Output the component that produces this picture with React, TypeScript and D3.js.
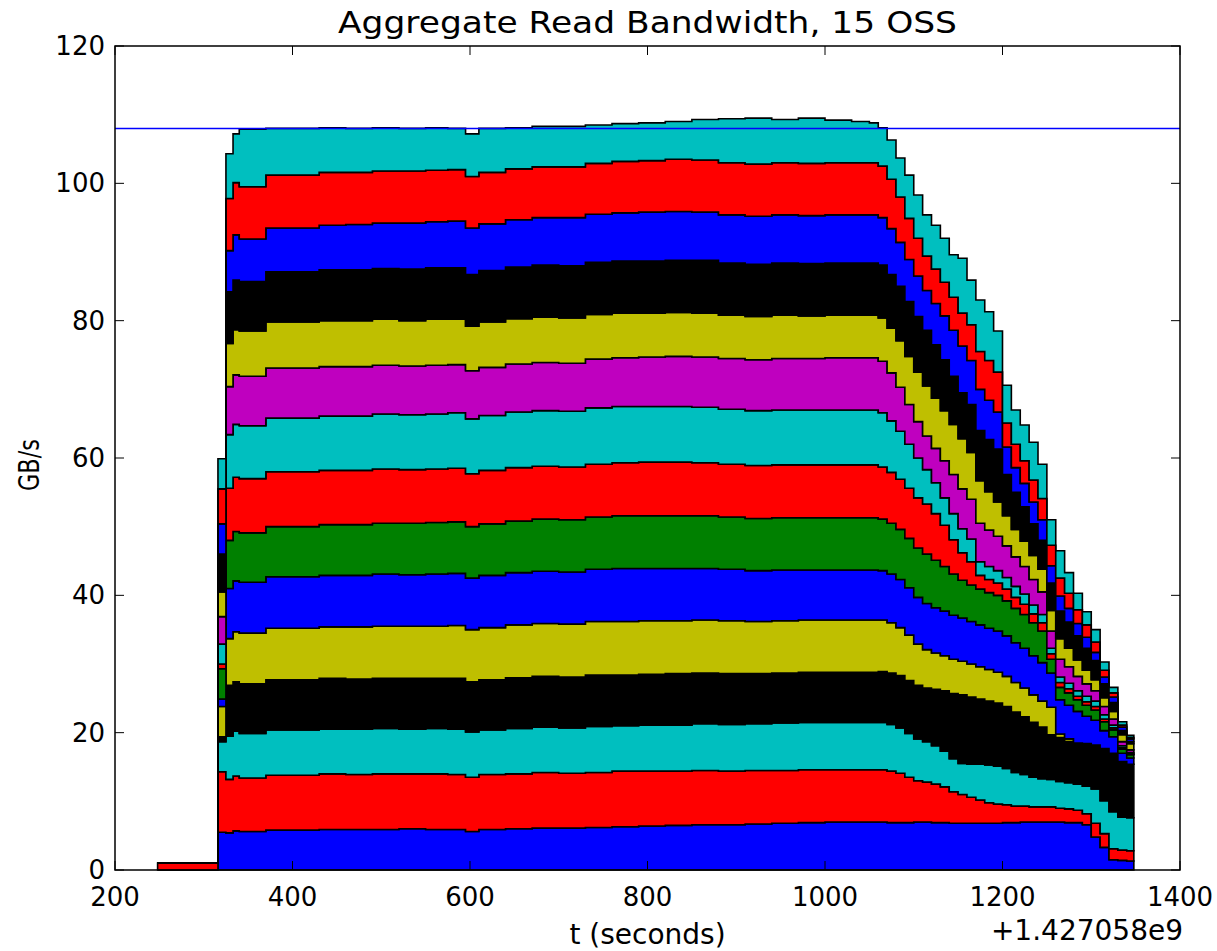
import React from 'react';
import * as d3 from 'd3';

// time stamps (seconds, offset +1.427058e9); each value holds until the next stamp
const times = [248, 316, 325, 333,
  340, 370, 400, 430, 460, 490, 520, 550, 575, 595, 610, 640, 670, 700, 730, 760, 790, 820, 850, 880, 910, 940, 970, 1000, 1030,
  1050, 1060, 1070, 1080, 1090, 1100, 1110, 1120, 1130, 1140, 1150, 1160, 1170, 1180, 1190, 1200, 1210, 1220, 1230, 1240,
  1250, 1260, 1270, 1280, 1290, 1300, 1310, 1320, 1330, 1340];
const END_TIME = 1348;

// per-OSS read bandwidth, GB/s (stacked bottom to top)
const oss01 = [0, 5.5, 5.4, 5.7,
  5.6, 5.8, 5.8, 5.9, 5.9, 5.9, 6.0, 5.9, 5.9, 5.6, 5.9, 6.0, 6.1, 6.1, 6.2, 6.3, 6.4, 6.5, 6.6, 6.6, 6.7, 6.8, 6.9, 7.0, 7.0,
  7.0, 7.0, 6.9, 6.9, 6.9, 7.0, 7.0, 6.9, 6.9, 6.8, 6.8, 6.8, 6.8, 6.8, 6.8, 6.9, 6.9, 7.0, 7.0, 7.0, 7.0, 7.0, 6.9, 6.9, 6.6, 4.8, 3.3, 1.5, 1.4, 1.3];
const oss02 = [1.0, 8.8, 7.8, 8.0,
  7.8, 8.0, 8.0, 8.1, 8.0, 8.1, 8.0, 8.1, 8.0, 7.9, 8.0, 8.0, 8.1, 8.0, 8.0, 8.1, 8.0, 7.9, 7.9, 7.8, 7.8, 7.7, 7.7, 7.6, 7.6,
  7.6, 7.6, 7.5, 7.2, 6.6, 6.0, 5.8, 5.6, 5.2, 4.6, 4.2, 3.8, 3.4, 3.0, 2.8, 2.6, 2.4, 2.3, 2.2, 2.2, 2.2, 2.0, 2.0, 1.8, 1.6, 2.0, 2.0, 1.6, 1.5, 1.5];
const oss03 = [0, 4.4, 6.3, 6.5,
  6.5, 6.6, 6.6, 6.5, 6.6, 6.6, 6.5, 6.6, 6.6, 6.6, 6.5, 6.6, 6.6, 6.6, 6.7, 6.6, 6.7, 6.7, 6.8, 6.8, 6.8, 6.9, 6.9, 6.9, 6.9,
  6.9, 6.9, 6.8, 6.6, 6.4, 6.1, 5.9, 5.6, 5.2, 4.8, 4.5, 4.8, 5.2, 5.5, 5.5, 5.3, 4.9, 4.6, 4.3, 4.1, 4.0, 3.9, 3.8, 3.8, 4.0, 5.0, 4.8, 5.4, 4.8, 4.8];
const oss04 = [0, 0.7, 7.4, 7.2,
  7.2, 7.3, 7.3, 7.4, 7.3, 7.3, 7.4, 7.3, 7.4, 7.3, 7.3, 7.4, 7.4, 7.4, 7.5, 7.4, 7.4, 7.5, 7.4, 7.4, 7.3, 7.3, 7.3, 7.3, 7.3,
  7.3, 7.4, 7.5, 7.6, 7.7, 7.8, 7.8, 8.2, 8.8, 9.5, 10.0, 9.8, 9.5, 9.3, 9.2, 9.0, 8.8, 8.4, 8.0, 7.5, 6.5, 6.4, 6.0, 6.0, 6.2, 6.4, 7.6, 8.5, 8.1, 7.8];
const oss05 = [0, 4.4, 6.8, 7.3,
  7.4, 7.5, 7.5, 7.5, 7.6, 7.6, 7.6, 7.6, 7.7, 7.6, 7.6, 7.7, 7.7, 7.7, 7.8, 7.8, 7.8, 7.7, 7.7, 7.7, 7.6, 7.6, 7.6, 7.6, 7.6,
  7.6, 7.5, 7.3, 7.0, 6.6, 6.0, 5.6, 5.3, 5.1, 5.0, 4.9, 4.8, 4.7, 4.6, 4.5, 4.4, 4.3, 4.2, 4.0, 3.8, 4.0, 0.5, 0.4, 0, 0, 0, 0, 0, 0, 0];
const oss06 = [0, 1.1, 7.3, 7.4,
  7.4, 7.5, 7.5, 7.5, 7.5, 7.6, 7.5, 7.6, 7.6, 7.5, 7.6, 7.6, 7.6, 7.6, 7.6, 7.7, 7.6, 7.6, 7.5, 7.5, 7.4, 7.4, 7.3, 7.3, 7.3,
  7.3, 7.2, 7.1, 7.0, 6.9, 6.8, 6.7, 6.6, 6.5, 6.4, 6.3, 6.2, 6.1, 6.0, 6.0, 5.9, 5.8, 5.8, 5.7, 5.6, 5.0, 5.0, 4.9, 4.6, 4.0, 3.6, 2.6, 2.4, 1.2, 0.9];
const oss07 = [0, 4.4, 7.0, 7.2,
  7.2, 7.3, 7.3, 7.4, 7.4, 7.4, 7.5, 7.5, 7.5, 7.5, 7.5, 7.5, 7.6, 7.6, 7.6, 7.7, 7.7, 7.7, 7.7, 7.6, 7.6, 7.6, 7.6, 7.6, 7.6,
  7.6, 7.5, 7.4, 7.3, 7.2, 7.2, 7.2, 6.9, 6.5, 6.0, 5.5, 5.3, 5.2, 5.2, 5.2, 5.1, 5.0, 4.9, 4.8, 4.6, 2.0, 1.8, 1.8, 1.7, 1.6, 1.5, 1.3, 1.0, 0.6, 0.5];
const oss08 = [0, 0.7, 7.6, 7.9,
  7.9, 8.0, 8.0, 7.9, 7.9, 7.9, 7.8, 7.8, 7.8, 7.7, 7.8, 7.8, 7.7, 7.7, 7.7, 7.7, 7.8, 7.8, 7.7, 7.7, 7.7, 7.7, 7.7, 7.7, 7.7,
  7.7, 7.6, 7.4, 7.3, 7.3, 7.3, 7.3, 6.8, 6.0, 5.0, 4.0, 3.4, 2.0, 1.9, 1.8, 1.7, 1.6, 1.5, 1.3, 1.2, 0.8, 0.7, 0.6, 0.5, 0.5, 0.5, 0.4, 0.3, 0.2, 0.1];
const oss09 = [0, 2.9, 7.8, 7.7,
  7.7, 7.8, 7.8, 7.9, 7.9, 8.0, 8.0, 8.0, 8.1, 8.0, 8.0, 8.1, 8.1, 8.1, 8.2, 8.2, 8.1, 8.1, 8.1, 8.0, 8.0, 8.0, 8.0, 8.0, 8.0,
  8.0, 7.9, 7.5, 7.0, 6.4, 5.8, 5.0, 4.5, 4.0, 3.8, 3.5, 3.3, 2.0, 1.9, 1.8, 1.7, 1.6, 1.5, 1.3, 1.2, 0.8, 0.8, 0.8, 0.8, 0.8, 0.8, 0.6, 0.4, 0.3, 0.2];
const oss10 = [0, 4.0, 7.0, 7.2,
  7.2, 7.3, 7.3, 7.2, 7.2, 7.1, 7.1, 7.1, 7.0, 7.0, 7.0, 7.0, 7.0, 7.0, 7.1, 7.1, 7.2, 7.3, 7.3, 7.4, 7.4, 7.5, 7.5, 7.6, 7.6,
  7.6, 7.5, 7.0, 6.4, 5.8, 5.3, 4.9, 5.0, 5.4, 5.7, 5.8, 5.8, 5.6, 5.3, 5.0, 4.6, 4.3, 4.0, 3.7, 3.3, 2.5, 2.6, 2.4, 2.1, 1.8, 1.5, 1.2, 0.9, 0.6, 0.4];
const oss11 = [0, 3.6, 6.3, 6.6,
  6.6, 6.7, 6.7, 6.7, 6.7, 6.7, 6.6, 6.7, 6.6, 6.5, 6.6, 6.6, 6.6, 6.6, 6.5, 6.5, 6.4, 6.4, 6.4, 6.3, 6.3, 6.3, 6.2, 6.2, 6.2,
  6.2, 6.3, 6.5, 6.8, 7.0, 7.2, 7.3, 7.3, 7.3, 7.3, 7.3, 6.8, 6.2, 5.6, 5.0, 4.4, 4.0, 3.7, 3.5, 3.3, 3.0, 3.0, 2.7, 2.4, 2.0, 1.6, 1.3, 1.1, 1.0, 0.9];
const oss12 = [0, 5.5, 7.5, 7.2,
  7.2, 7.3, 7.3, 7.4, 7.4, 7.4, 7.5, 7.5, 7.5, 7.5, 7.5, 7.5, 7.6, 7.6, 7.6, 7.6, 7.6, 7.6, 7.7, 7.6, 7.6, 7.6, 7.6, 7.6, 7.6,
  7.6, 7.7, 7.8, 7.9, 8.0, 8.1, 8.1, 7.8, 7.4, 7.0, 6.7, 7.0, 7.3, 7.6, 7.7, 6.0, 5.4, 5.0, 4.6, 4.2, 4.0, 4.0, 3.8, 3.5, 3.2, 2.8, 2.0, 1.3, 0.6, 0.3];
const oss13 = [0, 4.4, 6.0, 6.6,
  6.2, 6.4, 6.4, 6.5, 6.6, 6.6, 6.7, 6.7, 6.8, 6.8, 6.8, 6.9, 6.9, 7.0, 7.0, 7.0, 7.1, 7.1, 7.0, 7.0, 7.0, 7.0, 7.0, 7.0, 7.0,
  7.0, 6.9, 6.7, 6.4, 6.1, 5.9, 5.8, 6.0, 6.4, 6.7, 6.8, 6.4, 6.0, 5.7, 5.4, 4.0, 3.6, 3.4, 3.2, 3.0, 2.5, 2.2, 2.0, 1.8, 1.6, 1.2, 1.0, 0.8, 0.5, 0.4];
const oss14 = [0, 5.1, 7.6, 7.6,
  7.6, 7.7, 7.7, 7.7, 7.6, 7.6, 7.6, 7.5, 7.5, 7.5, 7.5, 7.4, 7.4, 7.4, 7.4, 7.5, 7.5, 7.6, 7.6, 7.6, 7.6, 7.6, 7.6, 7.6, 7.6,
  7.6, 7.5, 7.2, 6.6, 6.0, 5.5, 5.0, 5.0, 4.9, 4.8, 4.8, 5.2, 5.5, 5.8, 5.8, 3.5, 3.4, 3.3, 3.2, 3.1, 3.0, 2.6, 2.2, 2.0, 1.8, 1.5, 1.0, 0.6, 0.3, 0.2];
const oss15 = [0, 4.4, 6.5, 7.1,
  8.4, 6.8, 6.8, 6.5, 6.4, 6.3, 6.2, 6.2, 6.0, 6.2, 6.4, 6.0, 5.9, 5.9, 5.6, 5.5, 5.5, 5.5, 5.9, 6.4, 6.7, 6.3, 6.6, 6.2, 6.0,
  5.8, 5.6, 5.7, 5.7, 6.3, 6.3, 6.0, 6.4, 6.4, 6.2, 8.0, 6.5, 7.5, 7.1, 6.0, 5.5, 5.0, 5.2, 5.5, 5.0, 3.7, 4.0, 3.0, 2.4, 1.9, 1.8, 1.2, 0.8, 0.5, 0.3];

const seriesColors = ['#0000ff', '#ff0000', '#00bfbf', '#000000', '#bfbf00', '#0000ff', '#008000',
  '#ff0000', '#00bfbf', '#bf00bf', '#bfbf00', '#000000', '#0000ff', '#ff0000', '#00bfbf'];

const xTicks = [200, 400, 600, 800, 1000, 1200, 1400];
const yTicks = [0, 20, 40, 60, 80, 100, 120];
const referenceLevel = 108;
const titleText = 'Aggregate Read Bandwidth, 15 OSS';
const xLabelText = 't (seconds)';
const yLabelText = 'GB/s';
const offsetText = '+1.427058e9';

export default function App() {
  const W = 1217;
  const H = 951;
  const left = 115, right = 1180, top = 46, bottom = 870;
  const x = d3.scaleLinear().domain([200, 1400]).range([left, right]);
  const y = d3.scaleLinear().domain([0, 120]).range([bottom, top]);

  const series = [oss01, oss02, oss03, oss04, oss05, oss06, oss07, oss08, oss09, oss10, oss11, oss12, oss13, oss14, oss15];
  const keys = series.map((_, i) => 's' + i);
  const rows: any[] = times.map((t, j) => {
    const r: any = { t };
    series.forEach((s, i) => { r['s' + i] = s[j]; });
    return r;
  });
  rows.push({ ...rows[rows.length - 1], t: END_TIME });
  const stacked = d3.stack<any>().keys(keys)(rows);
  const area = d3.area<any>()
    .x((d: any) => x(d.data.t))
    .y0((d: any) => y(d[0]))
    .y1((d: any) => y(d[1]))
    .curve(d3.curveStepAfter);

  const font = 'DejaVu Sans, sans-serif';
  const tickLen = 9;

  return (
    <svg width={W} height={H} style={{ position: 'absolute', left: 0, top: 0, background: '#fff' }}
      xmlns="http://www.w3.org/2000/svg">
      <rect x={0} y={0} width={W} height={H} fill="#fff" />
      <text x={(left + right) / 2} y={33} textAnchor="middle" fontFamily={font} fontSize={31}
        textLength={619} lengthAdjust="spacingAndGlyphs" fill="#000">{titleText}</text>
      <g>
        {stacked.map((s, i) => (
          <path key={i} d={area(s as any) || ''} fill={seriesColors[i]} stroke="#000" strokeWidth={1.6}
            strokeLinejoin="miter" />
        ))}
      </g>
      <line x1={left} x2={right} y1={y(referenceLevel)} y2={y(referenceLevel)} stroke="#0000ff" strokeWidth={1.5} />
      <rect x={left} y={top} width={right - left} height={bottom - top} fill="none" stroke="#000" strokeWidth={1.5} />
      {xTicks.map(t => (
        <g key={'xt' + t}>
          <line x1={x(t)} x2={x(t)} y1={bottom} y2={bottom - tickLen} stroke="#000" strokeWidth={1} />
          <line x1={x(t)} x2={x(t)} y1={top} y2={top + tickLen} stroke="#000" strokeWidth={1} />
          <text x={x(t)} y={906} textAnchor="middle" fontFamily={font} fontSize={26} fill="#000">{t}</text>
        </g>
      ))}
      {yTicks.map(t => (
        <g key={'yt' + t}>
          <line x1={left} x2={left + tickLen} y1={y(t)} y2={y(t)} stroke="#000" strokeWidth={1} />
          <line x1={right} x2={right - tickLen} y1={y(t)} y2={y(t)} stroke="#000" strokeWidth={1} />
          <text x={105} y={y(t) + 9} textAnchor="end" fontFamily={font} fontSize={26} fill="#000">{t}</text>
        </g>
      ))}
      <text x={(left + right) / 2} y={944} textAnchor="middle" fontFamily={font} fontSize={28} fill="#000">{xLabelText}</text>
      <text x={1183} y={940} textAnchor="end" fontFamily={font} fontSize={28} fill="#000">{offsetText}</text>
      <text transform={`translate(39, 465) rotate(-90)`} textAnchor="middle" fontFamily={font} fontSize={28}
        textLength={52} lengthAdjust="spacingAndGlyphs" fill="#000">{yLabelText}</text>
    </svg>
  );
}
